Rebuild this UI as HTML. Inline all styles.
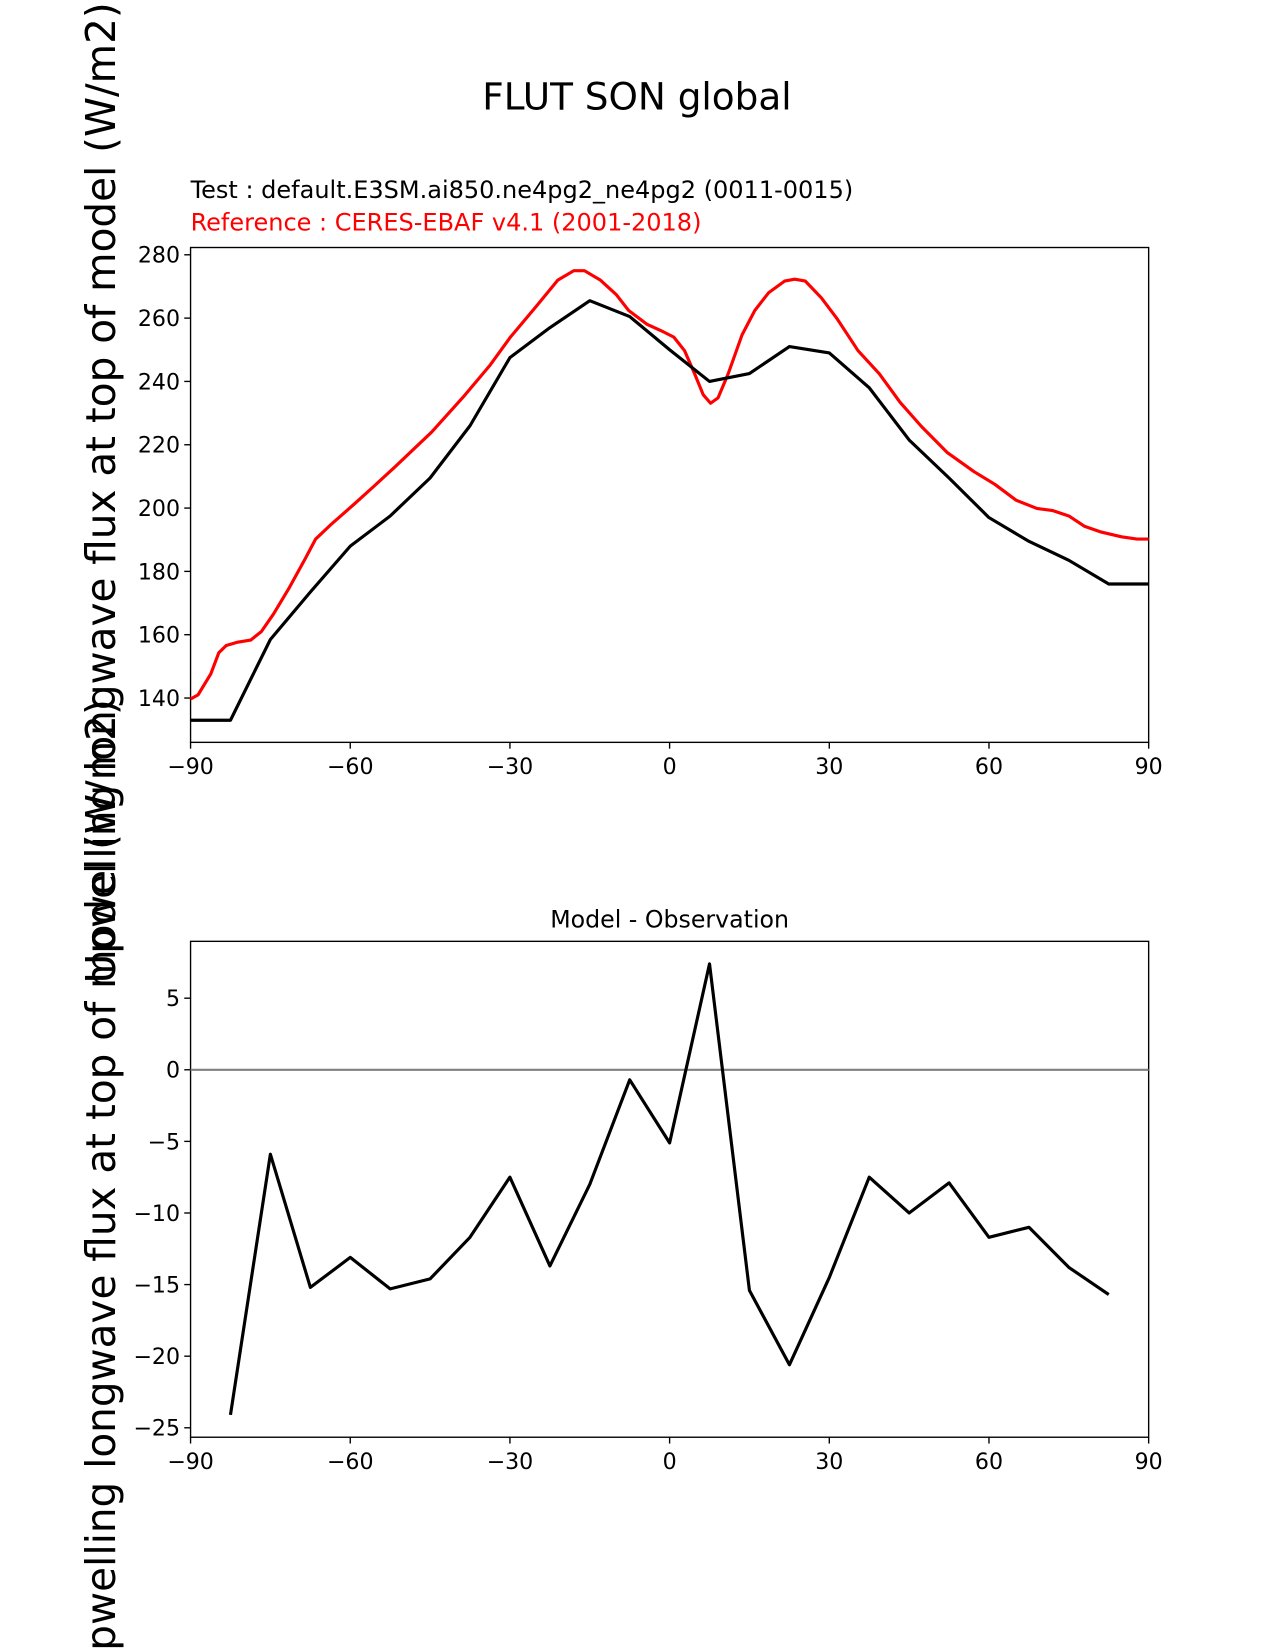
<!DOCTYPE html>
<html><head><meta charset="utf-8"><style>
body{margin:0;background:#fff}
svg{display:block;font-family:"DejaVu Sans","Liberation Sans",sans-serif}
</style></head><body>
<svg id="fig" width="1275" height="1650" viewBox="0 0 1211 1567">
<rect width="1211" height="1567" fill="#fff"/>
<text x="605" y="104" font-size="35.5" text-anchor="middle">FLUT SON global</text>
<text x="181" y="188" font-size="22.8">Test : default.E3SM.ai850.ne4pg2_ne4pg2 (0011-0015)</text>
<text x="181" y="219" font-size="22.8" fill="red">Reference : CERES-EBAF v4.1 (2001-2018)</text>
<text x="636" y="881" font-size="22.5" text-anchor="middle">Model - Observation</text>
<text transform="translate(109,468) rotate(-90)" font-size="38.5" text-anchor="middle">Upwelling longwave flux at top of model (W/m2)</text>
<text transform="translate(109,1130) rotate(-90)" font-size="38.5" text-anchor="middle">Upwelling longwave flux at top of model (W/m2)</text>
<g id="top"></g><g id="bot"></g>
</svg>
<script>
const testLat=[-90,-82.5,-75,-67.5,-60,-52.5,-45,-37.5,-30,-22.5,-15,-7.5,0,7.5,15,22.5,30,37.5,45,52.5,60,67.5,75,82.5,90];
const testVal=[133,133,158.5,173.5,188,197.5,209.5,226,247.5,257,265.5,260.5,250,240,242.5,251,249,238,221.5,209.5,197,189.5,183.5,176,176];
const refLat=[-90,-88.6,-86.2,-84.7,-83.3,-81.3,-78.7,-76.7,-74.4,-71.4,-68.4,-66.5,-63.5,-59.5,-55.6,-51.6,-44.7,-38.8,-33.8,-29.9,-24.9,-21,-18,-16,-13,-10,-7.7,-4.2,-1.2,0.8,2.8,4.7,6.3,7.7,9.1,11,13.6,16,18.6,21.6,23.5,25.5,28.5,31.5,35.4,39.4,43.3,47.3,52.2,57.2,61.1,65.1,69,72,75,78,80.9,84.9,87.8,90];
const refVal=[139.7,141,147.6,154.3,156.6,157.6,158.3,161,166.6,175,184.2,190.2,195,200.9,206.8,213,224,235,245,254,264,272,275,275,272,267.4,262.4,258,255.7,254,249.7,242.4,235.8,233.1,234.8,242.4,254.7,262.4,268,271.7,272.3,271.7,266.4,259.7,249.7,242.4,233.4,225.8,217.5,211.5,207.5,202.5,199.9,199.2,197.5,194.2,192.5,190.9,190.2,190.2];
const diffLat=[-82.5,-75,-67.5,-60,-52.5,-45,-37.5,-30,-22.5,-15,-7.5,0,7.5,15,22.5,30,37.5,45,52.5,60,67.5,75,82.5];
const diffVal=[-24.1,-5.9,-15.2,-13.1,-15.3,-14.6,-11.7,-7.5,-13.7,-8,-0.7,-5.1,7.4,-15.4,-20.6,-14.5,-7.5,-10,-7.9,-11.7,-11,-13.8,-15.7];
const xTicks=[-90,-60,-30,0,30,60,90];
const topTicks=[140,160,180,200,220,240,260,280];
const botTicks=[-25,-20,-15,-10,-5,0,5];
const NS='http://www.w3.org/2000/svg';
function mk(p,t,a){const e=document.createElementNS(NS,t);for(const k in a)e.setAttribute(k,a[k]);p.appendChild(e);return e;}
function fmt(v){return v<0?'\u2212'+(-v):''+v;}
function panel(g,top,bot,ymin,ymax,yt,name){
  const L=181,R=1091;
  const X=v=>L+(v+90)/180*(R-L);
  const Y=v=>bot-(v-ymin)/(ymax-ymin)*(bot-top);
  xTicks.forEach(v=>{
    const l=mk(g,'line',{x1:X(v),x2:X(v),y1:bot,y2:bot+6,stroke:'#000','stroke-width':1.3});
    
    
    const t=mk(g,'text',{x:X(v),y:bot+30,'font-size':21,'text-anchor':'middle'});t.textContent=fmt(v);
    
    
  });
  yt.forEach(v=>{
    const l=mk(g,'line',{x1:L-6,x2:L,y1:Y(v),y2:Y(v),stroke:'#000','stroke-width':1.3});
    
    
    const t=mk(g,'text',{x:L-10,y:Y(v)+7.5,'font-size':21,'text-anchor':'end'});t.textContent=fmt(v);
    
    
  });
  const f=mk(g,'rect',{x:L,y:top,width:R-L,height:bot-top,fill:'none',stroke:'#000','stroke-width':1.3});
  
  
  return {X,Y};
}
function line(g,xs,ys,ax,col,name){
  const d=xs.map((v,i)=>(i?'L':'M')+ax.X(v).toFixed(1)+','+ax.Y(ys[i]).toFixed(1)).join('');
  const p=mk(g,'path',{d:d,fill:'none',stroke:col,'stroke-width':3,'stroke-linejoin':'round'});
  
  
}
const gt=document.getElementById('top'),gb=document.getElementById('bot');
const a1=panel(gt,235,705,126.0,282.3,topTicks,'top-axes');
line(gt,refLat,refVal,a1,'red','reference-line');
line(gt,testLat,testVal,a1,'#000','test-line');
const a2=panel(gb,894,1365,-25.66,8.97,botTicks,'diff-axes');
const z=mk(gb,'line',{x1:181,x2:1091,y1:a2.Y(0),y2:a2.Y(0),stroke:'#808080','stroke-width':2});


line(gb,diffLat,diffVal,a2,'#000','difference-line');
</script>
</body></html>
